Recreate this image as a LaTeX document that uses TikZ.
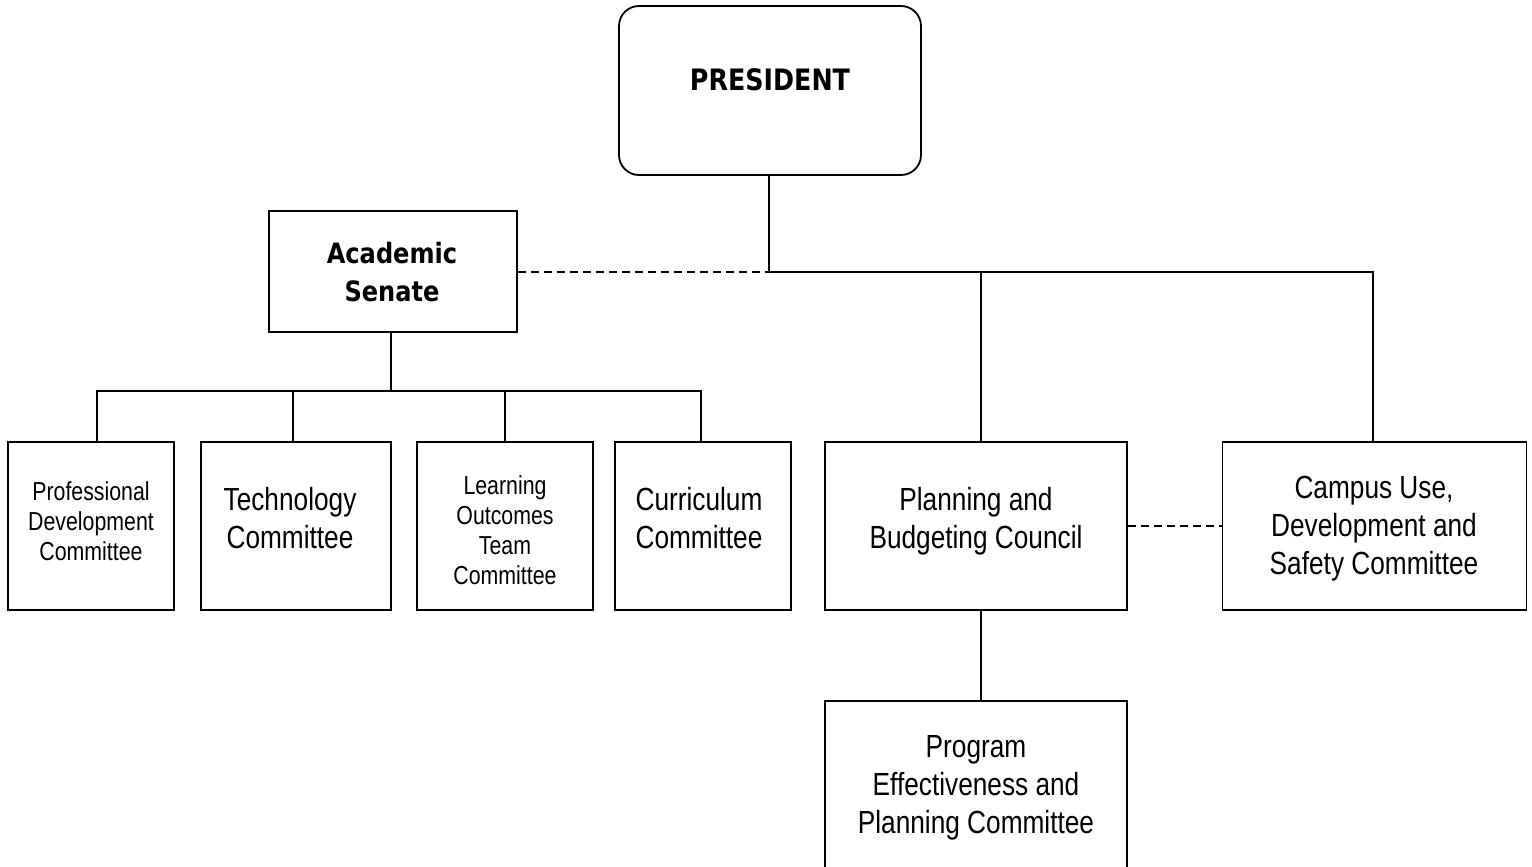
\documentclass[tikz,border=0pt]{standalone}
\usepackage{fontspec}
\setmainfont{Liberation Sans}
\newfontfamily\narrowfont[FakeStretch=0.82]{Liberation Sans}
\newfontfamily\headfont[FakeStretch=0.86]{DejaVu Sans}
\begin{document}
\begin{tikzpicture}[x=1pt,y=-1pt,
  line width=1.8pt,
  boxstyle/.style={draw=black, line width=1.8pt, rectangle, inner sep=0pt},
  bigtext/.style={align=center, inner sep=0pt, font=\narrowfont\fontsize{32}{38}\selectfont,
    execute at begin node=\strut, execute at end node=\strut},
  smalltext/.style={align=center, inner sep=0pt, font=\narrowfont\fontsize{26}{30}\selectfont,
    execute at begin node=\strut, execute at end node=\strut},
  headtext/.style={align=center, inner sep=0pt, font=\headfont\bfseries\fontsize{28}{38}\selectfont,
    execute at begin node=\strut, execute at end node=\strut},
  link/.style={draw=black, line width=1.8pt},
  dashlink/.style={draw=black, line width=1.8pt, dash pattern=on 8pt off 5pt}]
\useasboundingbox (0,0) rectangle (1532,867);
\fill[white] (0,0) rectangle (1532,867);

% boxes
\node[boxstyle, rounded corners=20pt, minimum width=302pt, minimum height=169pt] (pres) at (770,90.5) {};
\node[boxstyle, minimum width=248pt, minimum height=121pt] (senate) at (393,271.5) {};
\node[boxstyle, minimum width=166pt, minimum height=168pt] (prof) at (91,526) {};
\node[boxstyle, minimum width=190pt, minimum height=168pt] (tech) at (296,526) {};
\node[boxstyle, minimum width=176pt, minimum height=168pt] (learn) at (505,526) {};
\node[boxstyle, minimum width=176pt, minimum height=168pt] (curr) at (703,526) {};
\node[boxstyle, minimum width=302pt, minimum height=168pt] (plan) at (976,526) {};
\node[boxstyle, minimum width=304pt, minimum height=168pt] (campus) at (1374.5,526) {};
\node[boxstyle, minimum width=302pt, minimum height=170pt] (prog) at (976,786) {};

% texts
\node[headtext, font=\headfont\bfseries\fontsize{29.5}{38}\selectfont] (presT) at (770,83) {PRESIDENT};
\node[headtext] (senateT) at (392,278) {Academic\\Senate};
\node[smalltext] (profT) at (91,526) {Professional\\Development\\Committee};
\node[bigtext] (techT) at (290,523.5) {Technology\\Committee};
\node[smalltext] (learnT) at (505,535) {Learning\\Outcomes\\Team\\Committee};
\node[bigtext] (currT) at (699,523.5) {Curriculum\\Committee};
\node[bigtext] (planT) at (976,523.5) {Planning and\\Budgeting Council};
\node[bigtext] (campusT) at (1374,531) {Campus Use,\\Development and\\Safety Committee};
\node[bigtext] (progT) at (976,790) {Program\\Effectiveness and\\Planning Committee};

% bus coordinates
\coordinate (pbus) at (769,272);
\coordinate (abus) at (391,391);

% president connectors
\draw[link] (pres.south -| pbus) -- (pbus);
\draw[link] (pbus) -| ([xshift=-1.5pt]campus.north);
\draw[link] ([xshift=5pt]plan.north) -- ([xshift=5pt]plan.north |- pbus);
\draw[dashlink] (senate.east |- pbus) -- (pbus);

% senate connectors
\draw[link] (senate.south -| abus) -- (abus);
\draw[link] ([xshift=6pt]prof.north) |- (abus) -| ([xshift=-2pt]curr.north);
\draw[link] ([xshift=-3pt]tech.north) -- ([xshift=-3pt]tech.north |- abus);
\draw[link] (learn.north) -- (learn.north |- abus);

% planning connectors
\draw[link] ([xshift=5pt]plan.south) -- ([xshift=5pt]prog.north);
\draw[dashlink] (plan.east) -- (campus.west);
\end{tikzpicture}
\end{document}
